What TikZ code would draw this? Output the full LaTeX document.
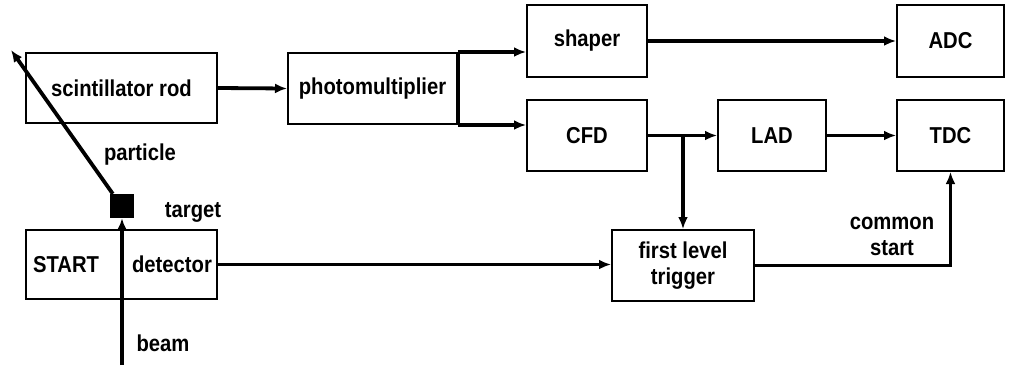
\documentclass[tikz,border=0pt]{standalone}
\usepackage{fontspec}
\setmainfont{Liberation Sans}[UprightFont={* Bold},UprightFeatures={FakeStretch=0.88}]
\usetikzlibrary{arrows.meta}
\tikzset{
  blk/.style={draw,line width=2pt,rectangle,inner sep=0pt,font=\fontsize{23}{26}\selectfont},
  lbl/.style={inner sep=0pt,font=\fontsize{23}{26}\selectfont,align=center},
  sig/.style={line width=3.8pt,-{Latex[length=12pt,width=10pt]}},
  bar/.style={line width=3.8pt},
}
\begin{document}
\begin{tikzpicture}[x=1pt,y=-1pt]
\useasboundingbox[fill=white] (0,0) rectangle (1013,365);
% boxes
\node[blk,minimum width=191pt,minimum height=70pt] (rod) at (121.5,88) {scintillator rod};
\node[blk,minimum width=169pt,minimum height=71pt] (pm) at (372.5,88.5) {photomultiplier};
\node[blk,minimum width=120pt,minimum height=72pt] (shaper) at (587,41) {shaper};
\node[blk,minimum width=120pt,minimum height=71pt] (cfd) at (587,135.5) {CFD};
\node[blk,minimum width=108pt,minimum height=71pt] (lad) at (772,135.5) {LAD};
\node[blk,minimum width=107pt,minimum height=72pt] (adc) at (950.5,41) {ADC};
\node[blk,minimum width=107pt,minimum height=71pt] (tdc) at (950.5,135.5) {TDC};
\node[blk,minimum width=142pt,minimum height=71pt,align=center] (flt) at (683,265.5) {first level\\trigger};
\node[blk,minimum width=191pt,minimum height=69pt] (sd) at (121.5,264.5) {};
\node[lbl] (startt) at (66,264.5) {START};
\node[lbl] (dett) at (172,264.5) {detector};
\node[fill=black,minimum size=24pt,inner sep=0pt] (tgt) at (122,206) {};
% labels
\node[lbl] (particle) at (140,155) {particle};
\node[lbl] (targett) at (193,212) {target};
\node[lbl] (beamt) at (163,343) {beam};
\node[lbl] (common) at (892,236) {common\\start};
% connectors
\draw[sig] (rod.east) -- (pm.west);
\draw[bar] (pm.north east) -- (pm.south east);
\draw[sig] (pm.north east) -- (pm.north east -| shaper.west);
\draw[sig] (pm.south east) -- (pm.south east -| cfd.west);
\draw[sig] (shaper.east) -- (adc.west);
\draw[sig] (cfd.east) -- (lad.west);
\coordinate (br) at (flt.north |- cfd.east);
\draw[sig] (br) -- (flt.north);
\draw[sig] (lad.east) -- (tdc.west);
\draw[sig] (flt.east) -| (tdc.south);
\draw[sig] (sd.east) -- (sd.east -| flt.west);
\coordinate (beamstart) at (122,365);
\draw[sig] (beamstart) -- (tgt.south);
\coordinate (pend) at (11,50);
\draw[sig] ([xshift=3pt]tgt.north west) -- (pend);
\end{tikzpicture}
\end{document}
